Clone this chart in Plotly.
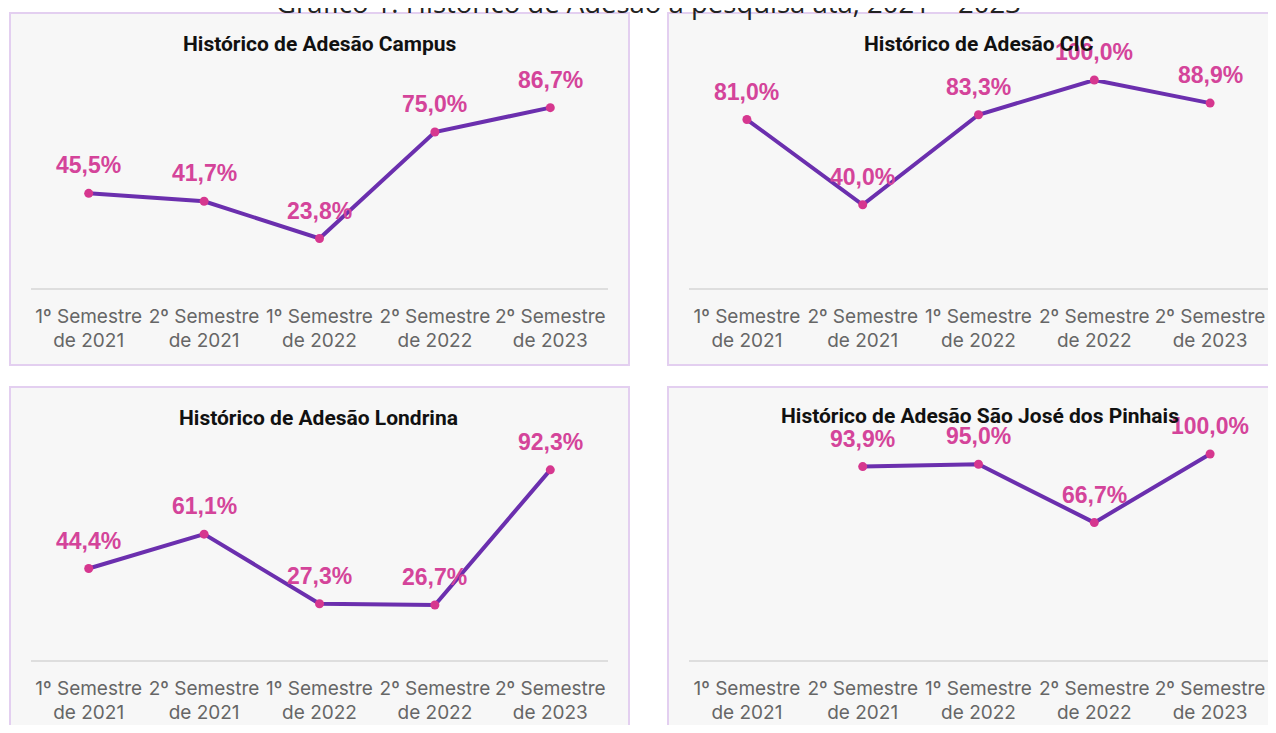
import plotly.graph_objects as go

categories = ["1º Semestre<br>de 2021", "2º Semestre<br>de 2021", "1º Semestre<br>de 2022",
              "2º Semestre<br>de 2022", "2º Semestre<br>de 2023"]
campus = [45.5, 41.7, 23.8, 75.0, 86.7]
cic = [81.0, 40.0, 83.3, 100.0, 88.9]
londrina = [44.4, 61.1, 27.3, 26.7, 92.3]
sjp = [None, 93.9, 95.0, 66.7, 100.0]
panel_titles = ["Histórico de Adesão Campus", "Histórico de Adesão CIC",
                "Histórico de Adesão Londrina", "Histórico de Adesão São José dos Pinhais"]
main_title = "Gráfico 1. Histórico de Adesão à pesquisa ata, 2021 – 2023"

# page body adds an 8px margin; compensate so the figure lands where the reference is
OFF = 8
W, H = 1276 - 2 * OFF, 733 - 2 * OFF
def px(x): return (x - OFF) / W
def py(y): return 1 - (y - OFF) / H

LINE = "#6b2fae"
MARK = "#d6378f"
LABEL = "#d4449a"

fig = go.Figure()

# panel backgrounds
panels = [(10, 13, 629, 365), (668, 13, 1290, 365), (10, 387, 629, 750), (668, 387, 1290, 750)]
for (x0, y0, x1, y1) in panels:
    fig.add_shape(type="rect", xref="paper", yref="paper",
                  x0=px(x0), x1=px(x1), y0=py(y1), y1=py(y0),
                  fillcolor="#f7f7f7", line=dict(color="#e3cff0", width=2), layer="below")

domains = [
    ((31, 608), (288, 80)),
    ((689, 1268), (288, 80)),
    ((31, 608), (660, 454)),
    ((689, 1268), (660, 454)),
]
series = [campus, cic, londrina, sjp]
title_pos = [(320, 44), (979, 44), (318, 418), (980, 416)]

for i, (vals, ((xa, xb), (yb, yt))) in enumerate(zip(series, domains)):
    n = "" if i == 0 else str(i + 1)
    fig.add_trace(go.Scatter(
        x=categories, y=vals, mode="lines+markers",
        line=dict(color=LINE, width=4),
        marker=dict(color=MARK, size=9),
        xaxis="x" + n, yaxis="y" + n, showlegend=False, cliponaxis=False,
        connectgaps=False,
    ))
    fig.update_layout(**{
        "xaxis" + n: dict(domain=[px(xa), px(xb)], anchor="y" + n, type="category",
                          range=[-0.5, 4.5], automargin=False,
                          showgrid=False, showline=True, linecolor="#dedede", linewidth=1.5,
                          ticks="outside", ticklen=10, tickcolor="rgba(0,0,0,0)",
                          tickfont=dict(family="Inter", size=19, color="#666666"),
                          zeroline=False, fixedrange=True),
        "yaxis" + n: dict(domain=[py(yb), py(yt)], anchor="x" + n, range=[0, 100],
                          visible=False, automargin=False, fixedrange=True),
    })
    for c, v in zip(categories, vals):
        if v is None:
            continue
        fig.add_annotation(x=c, y=v, xref="x" + n, yref="y" + n,
                           text="<b>" + f"{v:.1f}%".replace(".", ",") + "</b>",
                           showarrow=False, yshift=28,
                           font=dict(family="Liberation Sans", size=23, color=LABEL))
    tx, ty = title_pos[i]
    fig.add_annotation(x=px(tx), y=py(ty), xref="paper", yref="paper",
                       text="<b>" + panel_titles[i] + "</b>", showarrow=False,
                       xanchor="center", yanchor="middle",
                       font=dict(family="Roboto", size=21, color="#111111"))

fig.add_annotation(x=px(648), y=py(2), xref="paper", yref="paper", text=main_title,
                   showarrow=False, xanchor="center", yanchor="middle",
                   font=dict(family="Open Sans", size=27.5, color="#222222"))

fig.update_layout(width=W, height=H, margin=dict(l=0, r=0, t=0, b=0),
                  paper_bgcolor="white", plot_bgcolor="rgba(0,0,0,0)")
fig.write_html("out.html")
